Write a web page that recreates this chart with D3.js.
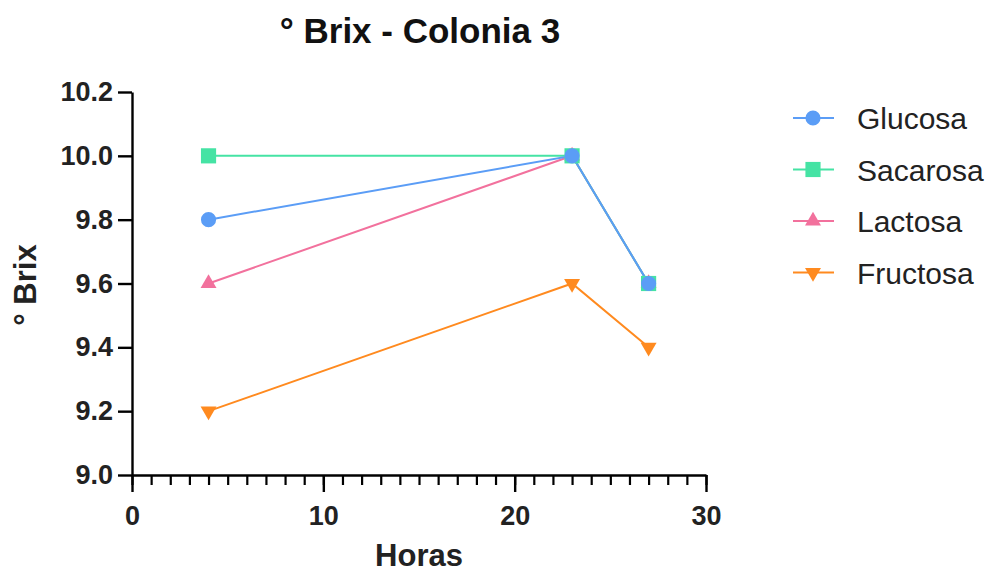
<!DOCTYPE html>
<html>
<head>
<meta charset="utf-8">
<script src="https://cdn.jsdelivr.net/npm/d3@7"></script>
<style>
  body { margin: 0; background: #fff; }
  text { font-family: Arial, "Liberation Sans", sans-serif; }
</style>
</head>
<body>
<svg id="chart" width="995" height="573"></svg>
<script>
// data
var horas = [4, 23, 27];
var glucosa = [9.8, 10.0, 9.6];
var sacarosa = [10.0, 10.0, 9.6];
var lactosa = [9.6, 10.0, 9.6];
var fructosa = [9.2, 9.6, 9.4];
var seriesNames = ["Glucosa", "Sacarosa", "Lactosa", "Fructosa"];
var seriesColors = ["#5b9df6", "#45e3a4", "#f2719d", "#ff8a1f"];
var seriesSymbols = [d3.symbolCircle, d3.symbolSquare, d3.symbolTriangle, d3.symbolTriangle];
var yTicks = [9.0, 9.2, 9.4, 9.6, 9.8, 10.0, 10.2];
var xTicks = [0, 10, 20, 30];

var allValues = [glucosa, sacarosa, lactosa, fructosa];

var svg = d3.select("#chart");
var plotLeft = 132, plotRight = 706, plotTop = 92, plotBottom = 475;

var x = d3.scaleLinear().domain([0, 30]).range([plotLeft, plotRight]);
var y = d3.scaleLinear().domain([9.0, 10.2]).range([plotBottom, plotTop]);

// title
svg.append("text").attr("x", 420).attr("y", 43).attr("text-anchor", "middle")
  .style("font-size", "35px").style("font-weight", "bold").attr("fill", "#111").text("° Brix - Colonia 3");

// x axis, minor ticks first
var xMinor = svg.append("g").attr("transform", "translate(0," + plotBottom + ")")
  .call(d3.axisBottom(x).ticks(30).tickSize(10).tickFormat(""));
xMinor.select(".domain").remove();
xMinor.selectAll("line").attr("stroke-width", 2.2);

var xAxis = svg.append("g").attr("transform", "translate(0," + plotBottom + ")")
  .call(d3.axisBottom(x).tickValues(xTicks).tickSize(17).tickSizeOuter(0).tickPadding(14));
xAxis.select(".domain").attr("stroke-width", 2.4);
xAxis.selectAll("line").attr("stroke-width", 2.4);
xAxis.selectAll("text").style("font-size", "27px").style("font-weight", "bold").attr("fill", "#222");

var yAxis = svg.append("g").attr("transform", "translate(" + plotLeft + ",0)")
  .call(d3.axisLeft(y).tickValues(yTicks).tickFormat(d3.format(".1f")).tickSize(14).tickSizeOuter(0).tickPadding(5));
yAxis.select(".domain").attr("stroke-width", 2.4);
yAxis.selectAll("line").attr("stroke-width", 2.4);
yAxis.selectAll("text").style("font-size", "27px").style("font-weight", "bold").attr("fill", "#222");

// axis titles
svg.append("text").attr("x", 419).attr("y", 566).attr("text-anchor", "middle")
  .style("font-size", "31px").style("font-weight", "bold").attr("fill", "#222").text("Horas");
svg.append("text").attr("transform", "translate(36,285) rotate(-90)").attr("text-anchor", "middle")
  .style("font-size", "31px").style("font-weight", "bold").attr("fill", "#222").text("° Brix");

// lines and markers, drawn bottom to top so Glucosa sits on top
var line = d3.line().x(function(d) { return x(d[0]); }).y(function(d) { return y(d[1]); });
var order = [3, 2, 1, 0];

function symbolFor(i) {
  var size = i == 0 ? 180 : (i == 1 ? 230 : 110);
  return d3.symbol().type(seriesSymbols[i]).size(size)();
}

order.forEach(function(i) {
  var pts = horas.map(function(h, j) { return [h, allValues[i][j]]; });
  svg.append("path").datum(pts).attr("d", line).attr("fill", "none")
    .attr("stroke", seriesColors[i]).attr("stroke-width", 2);
});
order.forEach(function(i) {
  var pts = horas.map(function(h, j) { return [h, allValues[i][j]]; });
  svg.selectAll(null).data(pts).enter().append("path")
    .attr("d", symbolFor(i))
    .attr("transform", function(d) {
      return "translate(" + x(d[0]) + "," + y(d[1]) + ")" + (i == 3 ? " rotate(180)" : "");
    })
    .attr("fill", seriesColors[i]);
});

// legend
var legend = svg.append("g");
seriesNames.forEach(function(name, i) {
  var ly = 118 + i * 51.5;
  legend.append("line").attr("x1", 793).attr("x2", 834).attr("y1", ly).attr("y2", ly)
    .attr("stroke", seriesColors[i]).attr("stroke-width", 2);
  legend.append("path").attr("d", symbolFor(i))
    .attr("transform", "translate(813," + ly + ")" + (i == 3 ? " rotate(180)" : ""))
    .attr("fill", seriesColors[i]);
  legend.append("text").attr("x", 857).attr("y", ly + 11)
    .style("font-size", "30px").attr("fill", "#222").text(name);
});
</script>
</body>
</html>
